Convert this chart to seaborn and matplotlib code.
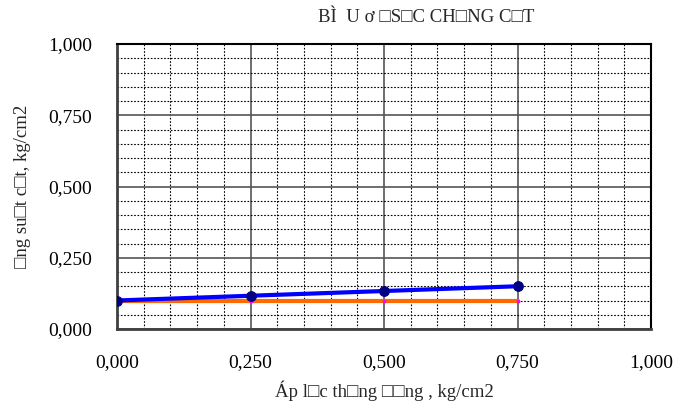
import matplotlib
matplotlib.use("Agg")
import matplotlib.pyplot as plt
from matplotlib.ticker import MultipleLocator, FuncFormatter
import seaborn as sns
import pandas as pd

# Shear strength test data
normal_stress = [0.0, 0.25, 0.50, 0.75]
shear_strength = [0.100, 0.1167, 0.1333, 0.150]
cohesion_line = [0.100, 0.100, 0.100, 0.100]

title_text = "BÌ  U ơ □S□C CH□NG C□T"
xlabel_text = "Áp l□c th□ng □□ng , kg/cm2"
ylabel_text = "□ng su□t c□t, kg/cm2"

sns.set_style("white")
plt.rcParams["font.family"] = ["Liberation Serif", "DejaVu Serif"]

fig = plt.figure(figsize=(6.77, 4.16), dpi=100)
ax = fig.add_axes([117 / 677, 1 - 329 / 416, (651 - 117) / 677, (329 - 44) / 416])

df = pd.DataFrame({"x": normal_stress, "tau": shear_strength, "c": cohesion_line})

sns.lineplot(data=df, x="x", y="c", ax=ax, color="#FF6A00", linewidth=3,
             marker="o", markersize=2, markerfacecolor="#FF00FF",
             markeredgecolor="#FF00FF", zorder=4)
sns.lineplot(data=df, x="x", y="tau", ax=ax, color="#0000FF", linewidth=3,
             marker="o", markersize=7, markerfacecolor="#000080",
             markeredgecolor="#000080", zorder=5)

ax.set_xlim(0, 1.0)
ax.set_ylim(0, 1.0)
ax.xaxis.set_major_locator(MultipleLocator(0.25))
ax.yaxis.set_major_locator(MultipleLocator(0.25))
ax.xaxis.set_minor_locator(MultipleLocator(0.05))
ax.yaxis.set_minor_locator(MultipleLocator(0.05))
fmt = FuncFormatter(lambda v, p: f"{v:.3f}".replace(".", ","))
ax.xaxis.set_major_formatter(fmt)
ax.yaxis.set_major_formatter(fmt)

ax.grid(which="minor", color="black", linestyle=(0, (1.5, 1.5)), linewidth=0.8)
ax.grid(which="major", color="#555555", linestyle="-", linewidth=1.2)
ax.set_axisbelow(True)

ax.tick_params(which="major", direction="out", length=7, width=1.3,
               color="#555555", labelsize=14, pad=11, labelcolor="black")
ax.tick_params(which="minor", length=0)

for side in ["left", "bottom"]:
    ax.spines[side].set_color("#404040")
    ax.spines[side].set_linewidth(2)
for side in ["top", "right"]:
    ax.spines[side].set_color("black")
    ax.spines[side].set_linewidth(1.5)

ax.set_xlabel(xlabel_text, fontsize=13.5, labelpad=7)
ax.set_ylabel(ylabel_text, fontsize=13.5, labelpad=12)

fig.text(426 / 677, 1 - 18 / 416, title_text, ha="center", va="center", fontsize=13.5)

fig.savefig("out.png", dpi=100)
